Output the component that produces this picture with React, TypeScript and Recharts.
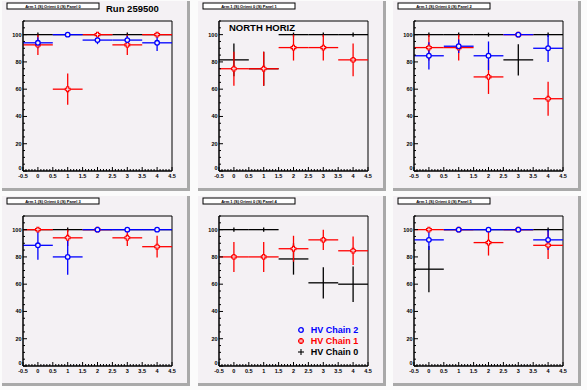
import { ScatterChart, Scatter, XAxis, YAxis, ErrorBar, ReferenceArea, Legend } from 'recharts'

const bins = [0, 1, 2, 3, 4]
const binHalfWidth = 0.5

const panelTitles = [
    'Arm 1 (S) Orient 0 (S) Panel 0',
    'Arm 1 (S) Orient 0 (S) Panel 1',
    'Arm 1 (S) Orient 0 (S) Panel 2',
    'Arm 1 (S) Orient 0 (S) Panel 3',
    'Arm 1 (S) Orient 0 (S) Panel 4',
    'Arm 1 (S) Orient 0 (S) Panel 5',
]

// HV chain 0 (black)
const chain0Eff = [
    [100, 100, 100, 100, 100],
    [81.5, 75, 100, 100, 100],
    [100, 100, 100, 81.5, 100],
    [100, 100, 100, 100, 100],
    [100, 100, 78.5, 61, 60],
    [71, 100, 100, 100, 100],
]
const chain0Err = [
    [1.5, 1.5, 1.5, 1.5, 1.5],
    [12, 12.5, 1.5, 1.5, 1.5],
    [1.5, 1.5, 1.5, 11.5, 1.5],
    [1.5, 1.5, 1.5, 1.5, 1.5],
    [1.5, 1.5, 11.5, 11.5, 13],
    [17, 1.5, 1.5, 1.5, 1.5],
]

// HV chain 1 (red)
const chain1Eff = [
    [92.5, 60, 100, 92.5, 100],
    [75, 75, 90.5, 90.5, 81.5],
    [90.5, 90.5, 69, 100, 53],
    [100, 94, 100, 94, 87.5],
    [80, 80, 86, 92.5, 84.5],
    [100, 100, 90.5, 100, 88.5],
]
const chain1Err = [
    [7.5, 11.5, 1, 7.5, 1],
    [12.5, 12.5, 9.5, 9.5, 12],
    [9.5, 9.5, 12.5, 1, 12.5],
    [1, 6, 1, 6, 8],
    [11, 11, 9.5, 7.5, 10.5],
    [1, 1, 9.5, 1, 10],
]

// HV chain 2 (blue), missing in panels 1 and 4
const chain2Eff = [
    [94, 100, 96, 96, 94],
    null,
    [84.5, 91.5, 84.5, 100, 90],
    [88.5, 80, 100, 100, 100],
    null,
    [92.5, 100, 100, 100, 92.5],
]
const chain2Err = [
    [4, 0.5, 3, 3, 6],
    null,
    [10, 5, 10.5, 0, 10],
    [10.5, 13, 0, 0, 0],
    null,
    [7.5, 0, 0, 0, 7.5],
]

const yTicks = [0, 5, 10, 15, 20, 25, 30, 35, 40, 45, 50, 55, 60, 65, 70, 75, 80, 85, 90, 95, 100, 105, 110]
const xTicks = Array.from({ length: 51 }, (_, i) => (i - 5) / 10)

const FONT = '"Liberation Sans", Arial, Helvetica, sans-serif'
const PAD_BG = '#f4f1f4'
const RED = '#ff0000'
const BLUE = '#0000ff'

function toPoints(vals: number[], errs: number[]) {
    return bins.map((x, i) => ({ x, y: vals[i], ex: binHalfWidth, ey: errs[i] }))
}

const XTick = (props: any) => {
    const { x, y, payload } = props
    const v = payload.value
    const major = Math.abs(v * 2 - Math.round(v * 2)) < 1e-6
    return (
        <g>
            <line x1={x} x2={x} y1={y} y2={y - (major ? 4 : 2)} stroke="#000" strokeWidth={1} />
            {major && (
                <text x={x} y={y + 6.5} textAnchor="middle" fontSize={5.5} fontWeight="bold" fontFamily={FONT} fill="#000">
                    {v}
                </text>
            )}
        </g>
    )
}

const YTick = (props: any) => {
    const { x, y, payload } = props
    const v = payload.value
    const major = v % 20 === 0 && v <= 100
    return (
        <g>
            <line x1={x} x2={x + (major ? 4 : 2)} y1={y} y2={y} stroke="#000" strokeWidth={1} />
            {major && (
                <text x={x - 1.5} y={v === 0 ? y - 0.8 : y + 2} textAnchor="end" fontSize={5.5} fontWeight="bold" fontFamily={FONT} fill="#000">
                    {v}
                </text>
            )}
        </g>
    )
}

const noMarker = () => <g />

const redMarker = (props: any) => {
    const { cx, cy } = props
    const a = 1
    const b = 2.4
    const d = `M${cx - a},${cy - b}h${2 * a}v${b - a}h${b - a}v${2 * a}h${a - b}v${b - a}h${-2 * a}v${a - b}h${a - b}v${-2 * a}h${b - a}z`
    return <path d={d} fill={PAD_BG} stroke={RED} strokeWidth={1.1} />
}

const blueMarker = (props: any) => {
    const { cx, cy } = props
    return <circle cx={cx} cy={cy} r={2.3} fill={PAD_BG} stroke={BLUE} strokeWidth={1.3} />
}

const legendRows = [
    { label: 'HV Chain 2', color: BLUE, kind: 'circle' },
    { label: 'HV Chain 1', color: RED, kind: 'cross' },
    { label: 'HV Chain 0', color: '#000', kind: 'plus' },
]

function LegendBox() {
    return (
        <div style={{ fontFamily: FONT, fontWeight: 'bold', fontSize: 9 }}>
            {legendRows.map((r) => (
                <div key={r.label} style={{ display: 'flex', alignItems: 'center', height: 11 }}>
                    <svg width={10} height={10} style={{ marginRight: 5 }}>
                        {r.kind === 'circle' && <circle cx={5} cy={5} r={2.3} fill="none" stroke={r.color} strokeWidth={1.3} />}
                        {r.kind === 'cross' && redMarker({ cx: 5, cy: 5 })}
                        {r.kind === 'plus' && (
                            <g stroke="#000" strokeWidth={1.1}>
                                <line x1={2} x2={8} y1={5} y2={5} />
                                <line x1={5} x2={5} y1={2} y2={8} />
                            </g>
                        )}
                    </svg>
                    <span style={{ color: r.color }}>{r.label}</span>
                </div>
            ))}
        </div>
    )
}

function Panel({ index }: { index: number }) {
    const col = index % 3
    const row = Math.floor(index / 3)
    const c0 = toPoints(chain0Eff[index], chain0Err[index])
    const c1 = toPoints(chain1Eff[index], chain1Err[index])
    const v2 = chain2Eff[index]
    const e2 = chain2Err[index]
    const c2 = v2 && e2 ? toPoints(v2, e2) : null
    return (
        <div style={{ position: 'absolute', left: col * 195.67, top: row * 195, width: 195, height: 195 }}>
            <div
                style={{
                    position: 'absolute',
                    left: 2,
                    top: 1,
                    width: 185,
                    height: 187,
                    background: PAD_BG,
                    borderRight: '3px solid #a9a9a9',
                    borderBottom: '3px solid #a9a9a9',
                }}
            />
            <div style={{ position: 'absolute', left: 0, top: 0 }}>
                <ScatterChart width={195} height={195} margin={{ top: 21, right: 23, bottom: 12, left: 3 }}>
                    <XAxis
                        type="number"
                        dataKey="x"
                        domain={[-0.5, 4.5]}
                        ticks={xTicks}
                        interval={0}
                        allowDataOverflow
                        tickSize={0}
                        tickMargin={0}
                        tickLine={false}
                        axisLine={{ stroke: '#000' }}
                        tick={XTick}
                        height={12}
                    />
                    <YAxis
                        type="number"
                        dataKey="y"
                        domain={[0, 110]}
                        ticks={yTicks}
                        interval={0}
                        allowDataOverflow
                        tickSize={0}
                        tickMargin={0}
                        tickLine={false}
                        axisLine={{ stroke: '#000' }}
                        tick={YTick}
                        width={20}
                    />
                    <ReferenceArea x1={-0.5} x2={4.5} y1={0} y2={110} fill="none" stroke="#000" strokeWidth={1} />
                    <Scatter data={c0} shape={noMarker} isAnimationActive={false}>
                        <ErrorBar dataKey="ex" direction="x" width={0} stroke="#000" strokeWidth={1.3} />
                        <ErrorBar dataKey="ey" direction="y" width={0} stroke="#000" strokeWidth={1.3} />
                    </Scatter>
                    <Scatter data={c1} shape={redMarker} isAnimationActive={false}>
                        <ErrorBar dataKey="ex" direction="x" width={0} stroke={RED} strokeWidth={1.3} />
                        <ErrorBar dataKey="ey" direction="y" width={0} stroke={RED} strokeWidth={1.3} />
                    </Scatter>
                    {c2 && (
                        <Scatter data={c2} shape={blueMarker} isAnimationActive={false}>
                            <ErrorBar dataKey="ex" direction="x" width={0} stroke={BLUE} strokeWidth={1.3} />
                            <ErrorBar dataKey="ey" direction="y" width={0} stroke={BLUE} strokeWidth={1.3} />
                        </Scatter>
                    )}
                    {index === 4 && (
                        <Legend
                            layout="vertical"
                            align="center"
                            verticalAlign="middle"
                            content={() => <LegendBox />}
                            wrapperStyle={{ left: 100, top: 129, width: 80 }}
                        />
                    )}
                </ScatterChart>
            </div>
            <svg width={195} height={195} style={{ position: 'absolute', left: 0, top: 0, pointerEvents: 'none' }}>
                <rect x={7} y={3} width={92} height={6} fill="#fff" stroke="#000" strokeWidth={1} />
                <text x={53} y={7.6} textAnchor="middle" fontSize={4} fontWeight="bold" fontFamily={FONT} fill="#000">
                    {panelTitles[index]}
                </text>
                {index === 0 && (
                    <text x={106} y={12} fontSize={9.5} fontWeight="bold" fontFamily={FONT} fill="#000">
                        Run 259500
                    </text>
                )}
                {index === 1 && (
                    <text x={33} y={31} fontSize={9.5} fontWeight="bold" fontFamily={FONT} fill="#000">
                        NORTH HORIZ
                    </text>
                )}
            </svg>
        </div>
    )
}

export default function App() {
    return (
        <div style={{ position: 'absolute', left: 0, top: 0, width: 587, height: 390, background: '#fbfbfb', overflow: 'hidden' }}>
            {[0, 1, 2, 3, 4, 5].map((i) => (
                <Panel key={i} index={i} />
            ))}
        </div>
    )
}
